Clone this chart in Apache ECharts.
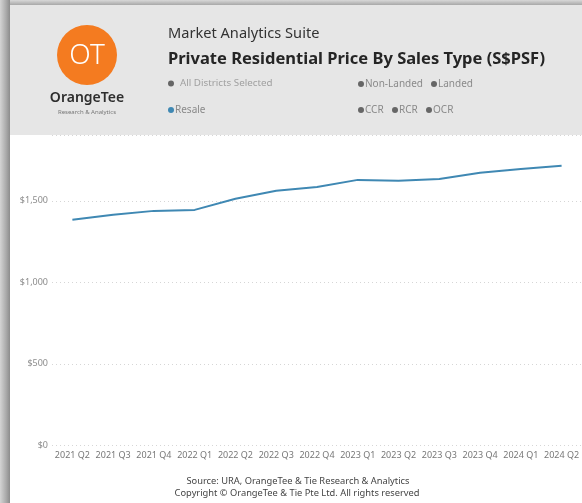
<!DOCTYPE html>
<html lang="en">
<head>
    <meta charset="UTF-8">
    <title>Private Residential Price By Sales Type</title>
</head>
<body style="margin: 0; background: #fff">
<div id="container" style="height: 503px; width: 582px;"></div>
<script type="text/javascript" src="https://cdn.jsdelivr.net/npm/echarts@6/dist/echarts.min.js"></script>
<script type="text/javascript">
    const quarters = ['2021 Q2', '2021 Q3', '2021 Q4', '2022 Q1', '2022 Q2', '2022 Q3', '2022 Q4',
        '2023 Q1', '2023 Q2', '2023 Q3', '2023 Q4', '2024 Q1', '2024 Q2'];
    const resalePsf = [1383, 1414, 1438, 1444, 1512, 1561, 1585, 1628, 1622, 1634, 1671, 1695, 1714];
    const yTicks = [0, 500, 1000, 1500];

    const font = 'Noto Sans';
    const dom = document.getElementById('container');
    const myChart = echarts.init(dom, null, {renderer: 'canvas'});

    // small chip: dot + label
    function chip(x, y, label, dotColor, textColor) {
        return [
            {type: 'circle', z: 12, shape: {cx: x + 3, cy: y, r: 3}, style: {fill: dotColor}},
            {
                type: 'text', z: 12,
                style: {x: x + 7, y: y, text: label, fill: textColor, font: '10px ' + font, verticalAlign: 'middle'}
            }
        ];
    }

    const option = {
        animation: false,
        backgroundColor: '#fff',
        grid: {left: 52, right: -4, top: 135.5, bottom: 57.5, containLabel: false},
        xAxis: {
            type: 'category',
            data: quarters,
            boundaryGap: true,
            axisLine: {show: false},
            axisTick: {show: false},
            axisLabel: {color: '#777', fontSize: 9, fontFamily: font, margin: 5, interval: 0}
        },
        yAxis: {
            type: 'value',
            min: 0,
            max: 1900,
            interval: 500,
            axisLine: {show: false},
            axisTick: {show: false},
            splitLine: {lineStyle: {color: '#d6d6d6', type: [1, 3], width: 1}},
            axisLabel: {
                color: '#8c8c8c', fontSize: 9, fontFamily: font, margin: 4,
                showMaxLabel: false,
                formatter: function (v) {
                    return yTicks.indexOf(v) >= 0 ? '$' + v.toLocaleString('en-US') : '';
                }
            }
        },
        series: [{
            name: 'Resale',
            type: 'line',
            data: resalePsf,
            symbol: 'none',
            lineStyle: {color: '#3f88b3', width: 2},
            z: 3
        }],
        graphic: [
            // left and top shadows
            {
                type: 'rect', left: 0, top: 0, z: 10,
                shape: {width: 10, height: 503},
                style: {
                    fill: new echarts.graphic.LinearGradient(0, 0, 1, 0, [
                        {offset: 0, color: '#d4d4d4'},
                        {offset: 0.6, color: '#ababab'},
                        {offset: 1, color: '#8c8c8c'}
                    ])
                }
            },
            {
                type: 'rect', left: 10, top: 0, z: 10,
                shape: {width: 572, height: 5},
                style: {
                    fill: new echarts.graphic.LinearGradient(0, 0, 0, 1, [
                        {offset: 0, color: '#d8d8d8'},
                        {offset: 1, color: '#a8a8a8'}
                    ])
                }
            },
            // header band
            {
                type: 'rect', left: 10, top: 5, z: 10,
                shape: {width: 572, height: 130},
                style: {fill: '#e6e6e6'}
            },
            // logo
            {
                type: 'circle', z: 11,
                shape: {cx: 87, cy: 55, r: 30},
                style: {fill: '#f47b20'}
            },
            {
                type: 'text', z: 12,
                style: {x: 87, y: 56, text: 'OT', fill: '#fff', font: '300 28px ' + font, align: 'center', verticalAlign: 'middle'}
            },
            {
                type: 'text', z: 12,
                style: {x: 87, y: 98, text: 'OrangeTee', fill: '#2e2e2e', font: '600 14px ' + font, align: 'center', verticalAlign: 'middle'}
            },
            {
                type: 'text', z: 12,
                style: {x: 87, y: 112, text: 'Research & Analytics', fill: '#777', font: '6px ' + font, align: 'center', verticalAlign: 'middle'}
            },
            // titles
            {
                type: 'text', z: 12,
                style: {x: 168, y: 34, text: 'Market Analytics Suite', fill: '#333', font: '14.6px ' + font, verticalAlign: 'middle'}
            },
            {
                type: 'text', z: 12,
                style: {x: 168, y: 59, text: 'Private Residential Price By Sales Type (S$PSF)', fill: '#252525', font: 'bold 16.5px ' + font, verticalAlign: 'middle'}
            },
            // slicer chips
            {type: 'circle', z: 12, shape: {cx: 171, cy: 83.5, r: 3}, style: {fill: '#666'}},
            {
                type: 'text', z: 12,
                style: {x: 180, y: 83, text: 'All Districts Selected', fill: '#a0a0a0', font: '9.8px ' + font, verticalAlign: 'middle'}
            },
            ...chip(358, 84, 'Non-Landed', '#666', '#8a8a8a'),
            ...chip(431, 84, 'Landed', '#666', '#8a8a8a'),
            ...chip(168, 110, 'Resale', '#3f88b3', '#8a8a8a'),
            ...chip(358, 110, 'CCR', '#666', '#8a8a8a'),
            ...chip(392, 110, 'RCR', '#666', '#8a8a8a'),
            ...chip(426, 110, 'OCR', '#666', '#8a8a8a'),
            // footer
            {
                type: 'text', z: 12,
                style: {
                    x: 298, y: 481, text: 'Source: URA, OrangeTee & Tie Research & Analytics',
                    fill: '#444', font: '9.3px ' + font, align: 'center', verticalAlign: 'middle'
                }
            },
            {
                type: 'text', z: 12,
                style: {
                    x: 297, y: 493, text: 'Copyright © OrangeTee & Tie Pte Ltd. All rights reserved',
                    fill: '#444', font: '9.3px ' + font, align: 'center', verticalAlign: 'middle'
                }
            }
        ]
    };
    myChart.setOption(option);
</script>
</body>
</html>
